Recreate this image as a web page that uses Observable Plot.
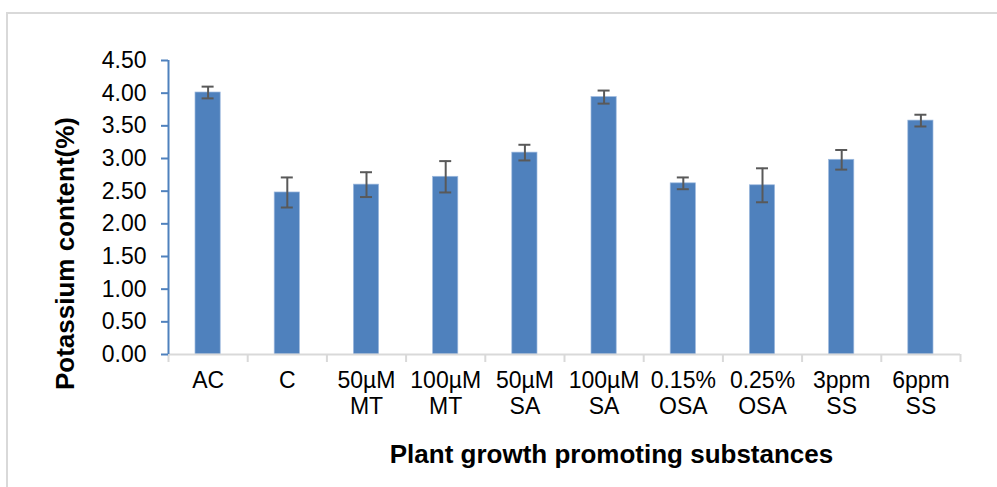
<!DOCTYPE html>
<html>
<head>
<meta charset="utf-8">
<script src="https://cdn.jsdelivr.net/npm/d3@7"></script>
<script src="https://cdn.jsdelivr.net/npm/@observablehq/plot@0.6"></script>
<style>
  html, body { margin: 0; padding: 0; background: #fff; }
  #wrap { position: relative; width: 997px; height: 487px; overflow: hidden; }
  #frame { position: absolute; left: 6px; top: 12px; width: 1100px; height: 600px; border: 2px solid #D9D9D9; box-sizing: border-box; }
  #chart { position: absolute; left: 0; top: 0; }
</style>
</head>
<body>
<div id="wrap"><div id="frame"></div><div id="chart"></div></div>
<script>
const categories = ["AC", "C", "50µM\nMT", "100µM\nMT", "50µM\nSA", "100µM\nSA", "0.15%\nOSA", "0.25%\nOSA", "3ppm\nSS", "6ppm\nSS"];
const values = [4.01, 2.48, 2.60, 2.72, 3.09, 3.94, 2.62, 2.59, 2.98, 3.58];
const errors = [0.09, 0.23, 0.19, 0.24, 0.12, 0.10, 0.09, 0.26, 0.15, 0.09];
const yTicks = [0, 0.5, 1, 1.5, 2, 2.5, 3, 3.5, 4, 4.5];
const yLabel = "Potassium content(%)";
const xLabel = "Plant growth promoting substances";

const data = categories.map((c, i) => ({i, cat: c, value: values[i], lo: values[i] - errors[i], hi: values[i] + errors[i]}));

const chart = Plot.plot({
  width: 997,
  height: 487,
  marginLeft: 168,
  marginRight: 37,
  marginTop: 60,
  marginBottom: 133,
  style: {fontFamily: "'Liberation Sans', Arial, sans-serif", fontSize: "23px", color: "#000", background: "transparent"},
  x: {domain: [0, categories.length], axis: null, label: null},
  y: {domain: [0, 4.5], axis: null, label: null},
  marks: [
    Plot.rectY(data, {x1: "i", x2: d => d.i + 1, y: "value", insetLeft: 27, insetRight: 27, fill: "#4F81BD", stroke: "#9DB9DE", strokeWidth: 0.7}),
    Plot.ruleX(data, {x: d => d.i + 0.5, y1: "lo", y2: "hi", stroke: "#595959", strokeWidth: 2}),
    Plot.ruleY(data, {x1: d => d.i + 0.5, x2: d => d.i + 0.5, y: "hi", insetLeft: -6, insetRight: -6, stroke: "#595959", strokeWidth: 2}),
    Plot.ruleY(data, {x1: d => d.i + 0.5, x2: d => d.i + 0.5, y: "lo", insetLeft: -6, insetRight: -6, stroke: "#595959", strokeWidth: 2}),
    Plot.ruleY([0], {stroke: "#D9D9D9", strokeWidth: 2}),
    Plot.axisX({ticks: d3.range(0, categories.length + 1), tickSize: 8, tickFormat: () => "", stroke: "#D9D9D9", strokeWidth: 2, label: null}),
    Plot.axisX({ticks: d3.range(categories.length).map(i => i + 0.5), tickSize: 0, tickPadding: 15.5, tickFormat: t => categories[Math.floor(t)], lineHeight: 1.13, fill: "#000", fontSize: 23, label: null}),
    Plot.ruleX([0], {stroke: "#4F81BD", strokeWidth: 2}),
    Plot.axisY({ticks: yTicks, tickSize: 7, tickPadding: 15, tickFormat: d3.format(".2f"), stroke: "#4F81BD", strokeWidth: 2, fill: "#000", fontSize: 23, label: null}),
    Plot.text([yLabel], {frameAnchor: "left", textAnchor: "middle", lineAnchor: "middle", dx: -102.5, dy: 46, rotate: -90, fontSize: 26, fontWeight: "bold", fill: "#000"}),
    Plot.text([xLabel], {frameAnchor: "bottom", textAnchor: "middle", lineAnchor: "middle", dx: 47, dy: 100, fontSize: 26, fontWeight: "bold", fill: "#000"})
  ]
});
document.getElementById("chart").appendChild(chart);
</script>
</body>
</html>
